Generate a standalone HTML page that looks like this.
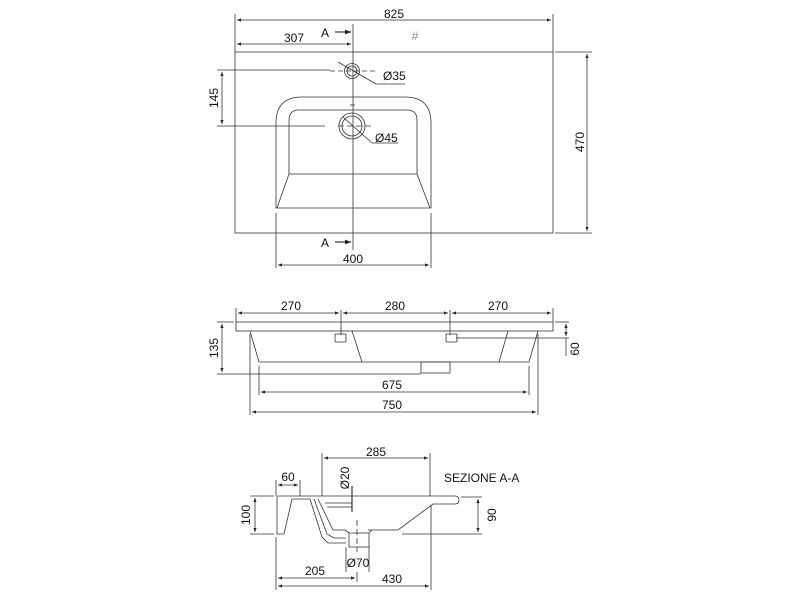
<!DOCTYPE html>
<html><head><meta charset="utf-8"><style>
html,body{margin:0;padding:0;background:#fff}
svg{display:block}
text{font-family:"Liberation Sans",Arial,sans-serif;font-size:12px;fill:#111}
</style></head><body>
<svg width="800" height="600" viewBox="0 0 800 600" xmlns="http://www.w3.org/2000/svg">
<defs>
<marker id="a" viewBox="0 0 10 10" refX="10" refY="5" markerWidth="7" markerHeight="5" orient="auto-start-reverse"><path d="M0,1 L10,5 L0,9 z" fill="#222"/></marker>
</defs>
<g stroke="#333" stroke-width="0.8" fill="none">
<!-- TOP VIEW -->
<rect x="235" y="52" width="318" height="181"/>
<line x1="235" y1="14" x2="235" y2="52"/><line x1="553" y1="14" x2="553" y2="52"/>
<line x1="237" y1="20" x2="551" y2="20" marker-start="url(#a)" marker-end="url(#a)"/>
<line x1="237" y1="44" x2="351" y2="44" marker-start="url(#a)" marker-end="url(#a)"/>
<line x1="353" y1="24" x2="353" y2="250"/>
<line x1="335" y1="32" x2="351" y2="32" marker-end="url(#a)" stroke-width="1.2"/>
<line x1="335" y1="242" x2="351" y2="242" marker-end="url(#a)" stroke-width="1.2"/>
<circle cx="352" cy="71" r="7.5"/><circle cx="352" cy="71" r="5"/>
<line x1="330" y1="71" x2="375" y2="71" stroke-dasharray="5,3"/>
<line x1="338" y1="62" x2="376" y2="84"/><line x1="376" y1="84" x2="405" y2="84"/>
<path d="M276,208 L276,123 Q276,97 302,97 L405,97 Q431,97 431,123 L431,208 Z"/>
<path d="M289,174 L289,120 Q289,110 299,110 L407,110 Q417,110 417,120 L417,174 Z"/>
<line x1="289" y1="174" x2="277" y2="208"/><line x1="417" y1="174" x2="430" y2="208"/>
<circle cx="352" cy="126" r="13"/><circle cx="352" cy="126" r="10"/>
<line x1="338" y1="126" x2="373" y2="126" stroke-dasharray="6,3"/>
<line x1="343" y1="117" x2="372" y2="143"/><line x1="372" y1="143" x2="398" y2="143"/>
<line x1="350" y1="105" x2="355" y2="105"/>
<line x1="217" y1="70" x2="330" y2="70"/><line x1="217" y1="126" x2="325" y2="126"/>
<line x1="222" y1="72" x2="222" y2="124" marker-start="url(#a)" marker-end="url(#a)"/>
<line x1="555" y1="52" x2="592" y2="52"/><line x1="555" y1="233" x2="592" y2="233"/>
<line x1="587" y1="54" x2="587" y2="231" marker-start="url(#a)" marker-end="url(#a)"/>
<line x1="276" y1="213" x2="276" y2="268"/><line x1="431" y1="213" x2="431" y2="268"/>
<line x1="278" y1="265" x2="429" y2="265" marker-start="url(#a)" marker-end="url(#a)"/>
<!-- FRONT VIEW -->
<rect x="236" y="322" width="317" height="9"/>
<path d="M250,331 L259,362 L529,362 L538,331"/>
<line x1="352" y1="331" x2="362" y2="362"/><line x1="508" y1="331" x2="499" y2="362"/>
<rect x="421" y="362" width="29" height="11"/>
<rect x="335" y="334" width="11" height="8" rx="1"/><rect x="446" y="334" width="11" height="8" rx="1"/>
<line x1="236" y1="308" x2="236" y2="322"/><line x1="553" y1="308" x2="553" y2="322"/>
<line x1="341" y1="310" x2="341" y2="335"/><line x1="450" y1="310" x2="450" y2="335"/>
<line x1="238" y1="313" x2="339" y2="313" marker-start="url(#a)" marker-end="url(#a)"/>
<line x1="343" y1="313" x2="448" y2="313" marker-start="url(#a)" marker-end="url(#a)"/>
<line x1="452" y1="313" x2="551" y2="313" marker-start="url(#a)" marker-end="url(#a)"/>
<line x1="217" y1="322" x2="234" y2="322"/><line x1="217" y1="374" x2="421" y2="374"/>
<line x1="222" y1="324" x2="222" y2="372" marker-start="url(#a)" marker-end="url(#a)"/>
<line x1="555" y1="322" x2="569" y2="322"/><line x1="456" y1="338" x2="569" y2="338"/>
<line x1="566" y1="324" x2="566" y2="336" marker-start="url(#a)" marker-end="url(#a)"/>
<line x1="566" y1="338" x2="566" y2="356"/>
<line x1="259" y1="366" x2="259" y2="395"/><line x1="529" y1="366" x2="529" y2="395"/>
<line x1="261" y1="392" x2="527" y2="392" marker-start="url(#a)" marker-end="url(#a)"/>
<line x1="250" y1="334" x2="250" y2="415"/><line x1="538" y1="334" x2="538" y2="415"/>
<line x1="252" y1="412" x2="536" y2="412" marker-start="url(#a)" marker-end="url(#a)"/>
<!-- SECTION -->
<path d="M310,496 L455,496 Q459,496 459,500 Q459,504 455,504 L433,504 L398,530 L368,530"/>
<path d="M277,496 L310,496"/>
<path d="M277,496 L277,534 L284,534 L292,499 L310,499"/>
<path d="M310,499 L322,537 L328,543 L346,543"/>
<path d="M314,499 L327,534 L334,538 L346,538"/>
<path d="M318,499 L333,530 L345,530"/>
<path d="M345,530 L349,533 L349,547 L369,547 L369,533 L372,530"/>
<line x1="349" y1="533" x2="369" y2="533"/>
<line x1="357" y1="520" x2="357" y2="552" stroke-dasharray="6,3"/>
<line x1="325" y1="503" x2="352" y2="503"/><line x1="327" y1="507" x2="352" y2="507"/>
<line x1="352" y1="486" x2="352" y2="512" stroke-width="1.2"/>
<line x1="322" y1="453" x2="322" y2="496"/><line x1="430" y1="453" x2="430" y2="496"/>
<line x1="324" y1="458" x2="428" y2="458" marker-start="url(#a)" marker-end="url(#a)"/>
<line x1="276" y1="480" x2="276" y2="496"/><line x1="300" y1="480" x2="300" y2="496"/>
<line x1="278" y1="485" x2="298" y2="485" marker-start="url(#a)" marker-end="url(#a)"/>
<line x1="250" y1="496" x2="274" y2="496"/><line x1="250" y1="534" x2="274" y2="534"/>
<line x1="255" y1="498" x2="255" y2="532" marker-start="url(#a)" marker-end="url(#a)"/>
<line x1="402" y1="534" x2="482" y2="534"/><line x1="461" y1="497" x2="482" y2="497"/>
<line x1="478" y1="499" x2="478" y2="532" marker-start="url(#a)" marker-end="url(#a)"/>
<line x1="346" y1="547" x2="346" y2="572"/><line x1="369" y1="547" x2="369" y2="572"/>
<line x1="357" y1="572" x2="357" y2="582"/>
<line x1="276" y1="537" x2="276" y2="590"/><line x1="431" y1="505" x2="431" y2="590"/>
<line x1="278" y1="578" x2="355" y2="578" marker-start="url(#a)" marker-end="url(#a)"/>
<line x1="278" y1="586" x2="429" y2="586" marker-start="url(#a)" marker-end="url(#a)"/>
</g>
<text x="394" y="18" text-anchor="middle">825</text>
<text x="294" y="42" text-anchor="middle">307</text>
<text x="325" y="37" text-anchor="middle">A</text>
<text x="325" y="247" text-anchor="middle">A</text>
<text x="415" y="40" text-anchor="middle" style="fill:#888">#</text>
<text x="383" y="80">Ø35</text>
<text x="375" y="142">Ø45</text>
<text x="353" y="263" text-anchor="middle">400</text>
<text transform="translate(218,98) rotate(-90)" text-anchor="middle">145</text>
<text transform="translate(584,142) rotate(-90)" text-anchor="middle">470</text>
<text x="291" y="310" text-anchor="middle">270</text>
<text x="395" y="310" text-anchor="middle">280</text>
<text x="498" y="310" text-anchor="middle">270</text>
<text transform="translate(218,348) rotate(-90)" text-anchor="middle">135</text>
<text transform="translate(565,349) rotate(-90)" text-anchor="middle" dy="14">60</text>
<text x="392" y="389" text-anchor="middle">675</text>
<text x="392" y="409" text-anchor="middle">750</text>
<text x="376" y="456" text-anchor="middle">285</text>
<text x="288" y="481" text-anchor="middle">60</text>
<text transform="translate(349,478) rotate(-90)" text-anchor="middle">Ø20</text>
<text x="444" y="482">SEZIONE A-A</text>
<text transform="translate(250,515) rotate(-90)" text-anchor="middle">100</text>
<text transform="translate(496,515) rotate(-90)" text-anchor="middle">90</text>
<text x="358" y="567" text-anchor="middle">Ø70</text>
<text x="315" y="575" text-anchor="middle">205</text>
<text x="392" y="583" text-anchor="middle">430</text>
</svg>
</body></html>
